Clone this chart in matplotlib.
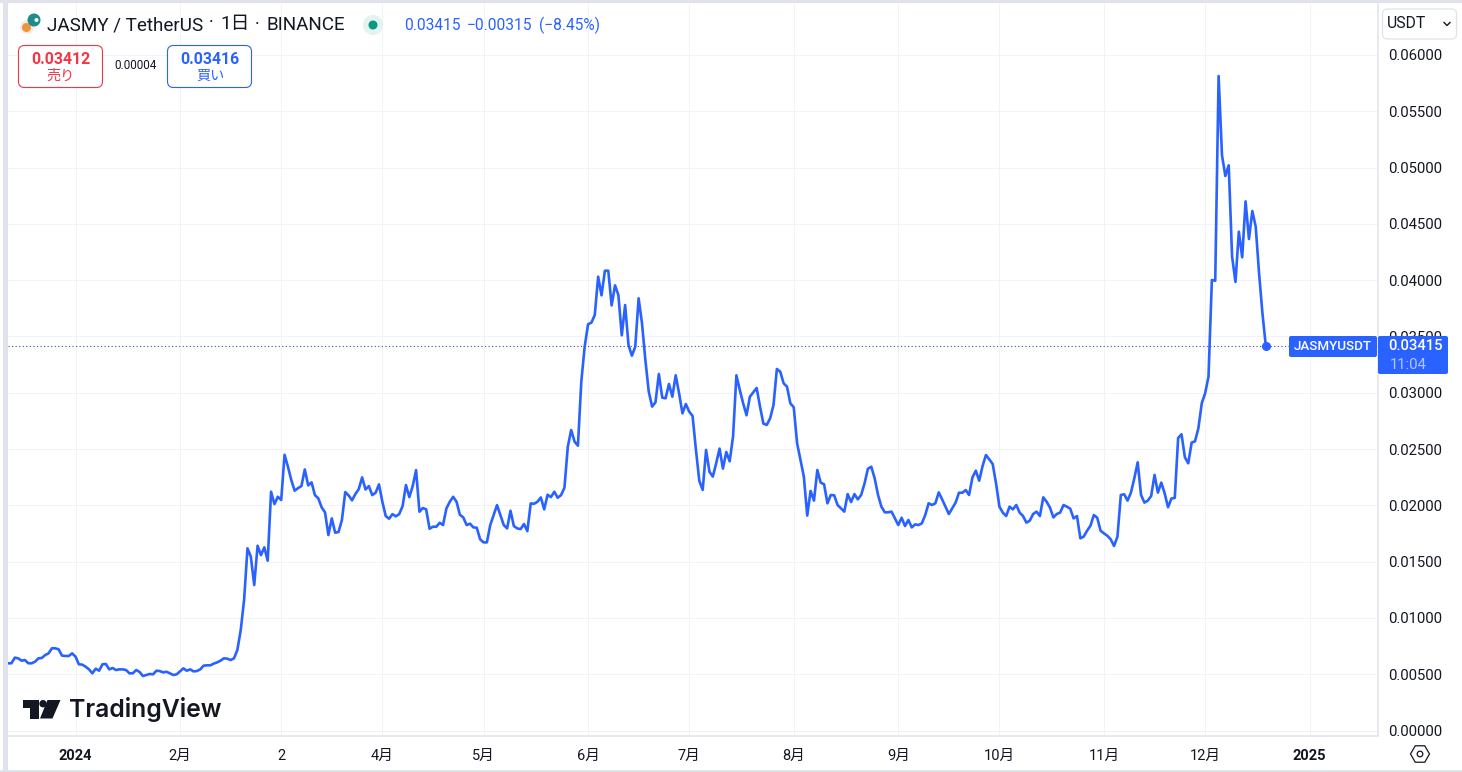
import numpy as np
import pandas as pd
import matplotlib
matplotlib.use('Agg')
import matplotlib.pyplot as plt
from matplotlib.patches import FancyBboxPatch, Rectangle, Circle, Polygon, RegularPolygon

plt.rcParams['font.family'] = ['Roboto', 'Noto Sans CJK JP', 'DejaVu Sans']

# daily close
close_dec_feb = [0.00597, 0.00597, 0.00647, 0.00641, 0.00620, 0.00626, 0.00597, 0.00597, 0.00611, 0.00641,
                 0.00644, 0.00670, 0.00685, 0.00730, 0.00730, 0.00721, 0.00665, 0.00662, 0.00662, 0.00685,
                 0.00656, 0.00588, 0.00585, 0.00567, 0.00543, 0.00508, 0.00549, 0.00531, 0.00588, 0.00591,
                 0.00543, 0.00555, 0.00537, 0.00543, 0.00543, 0.00537, 0.00508, 0.00508, 0.00537, 0.00520,
                 0.00484, 0.00493, 0.00502, 0.00499, 0.00531, 0.00528, 0.00516, 0.00522, 0.00508, 0.00493,
                 0.00499, 0.00525, 0.00552, 0.00531, 0.00543, 0.00525, 0.00528, 0.00543, 0.00576, 0.00579,
                 0.00579, 0.00594, 0.00605, 0.00620, 0.00641, 0.00638, 0.00626, 0.00641, 0.00715, 0.00892]
close_feb_may = [0.01159, 0.01618, 0.01544, 0.01292, 0.01641, 0.01558, 0.01627, 0.01508, 0.02121, 0.02011,
                 0.02076, 0.02047, 0.02449, 0.02343, 0.02224, 0.02130, 0.02153, 0.02171, 0.02319, 0.02177,
                 0.02204, 0.02091, 0.02062, 0.01982, 0.01937, 0.01736, 0.01884, 0.01757, 0.01763, 0.01869,
                 0.02118, 0.02088, 0.02044, 0.02100, 0.02144, 0.02248, 0.02141, 0.02171, 0.02091, 0.02112,
                 0.02186, 0.02032, 0.01905, 0.01881, 0.01922, 0.01902, 0.01922, 0.01993, 0.02180, 0.02073,
                 0.02171, 0.02313, 0.01943, 0.01976, 0.01964, 0.01792, 0.01810, 0.01810, 0.01845, 0.01825,
                 0.01973, 0.02032, 0.02076, 0.02032, 0.01916, 0.01893, 0.01825, 0.01837, 0.01804, 0.01801,
                 0.01698, 0.01671, 0.01671, 0.01825, 0.01913, 0.02002, 0.01913, 0.01825, 0.01795, 0.01952,
                 0.01816, 0.01795, 0.01789, 0.01834, 0.01771, 0.02017, 0.02014, 0.02032, 0.02070, 0.01964,
                 0.02094, 0.02073, 0.02121, 0.02067, 0.02091, 0.02156]
close_may_aug = [0.02521, 0.02669, 0.02566, 0.02530, 0.03099, 0.03409, 0.03608, 0.03623, 0.03691, 0.04031,
                 0.03865, 0.04084, 0.04084, 0.03776, 0.03954, 0.03868, 0.03510, 0.03779, 0.03424, 0.03329,
                 0.03409, 0.03839, 0.03617, 0.03291, 0.03010, 0.02877, 0.02915, 0.03167, 0.02957, 0.02951,
                 0.03078, 0.02965, 0.03155, 0.02995, 0.02817, 0.02900, 0.02832, 0.02794, 0.02492, 0.02217,
                 0.02137, 0.02492, 0.02299, 0.02255, 0.02373, 0.02504, 0.02326, 0.02474, 0.02391, 0.02610,
                 0.03155, 0.03025, 0.02906, 0.02800, 0.02965, 0.03004, 0.03042, 0.02877, 0.02726, 0.02714,
                 0.02773, 0.02891, 0.03211, 0.03187, 0.03084, 0.03054, 0.02906, 0.02871, 0.02551, 0.02403,
                 0.02255, 0.01909, 0.02128, 0.02042, 0.02314, 0.02202, 0.02187, 0.02018, 0.02092, 0.02089,
                 0.02003, 0.01974]
close_aug_nov = [0.01944, 0.02100, 0.02029, 0.02100, 0.02053, 0.02092, 0.02195, 0.02325, 0.02343, 0.02240,
                 0.02092, 0.01988, 0.01938, 0.01938, 0.01944, 0.01884, 0.01825, 0.01890, 0.01816, 0.01870,
                 0.01804, 0.01831, 0.01825, 0.01840, 0.01914, 0.02018, 0.02003, 0.02018, 0.02115, 0.02053,
                 0.01988, 0.01923, 0.01973, 0.02024, 0.02112, 0.02112, 0.02136, 0.02092, 0.02248, 0.02308,
                 0.02219, 0.02349, 0.02447, 0.02408, 0.02367, 0.02195, 0.01988, 0.01935, 0.01905, 0.01988,
                 0.01964, 0.02003, 0.01935, 0.01905, 0.01846, 0.01864, 0.01923, 0.01944, 0.01905, 0.02071,
                 0.02032, 0.01979, 0.01893, 0.01923, 0.01935, 0.02003, 0.01988, 0.01970, 0.01884, 0.01905,
                 0.01707, 0.01722, 0.01775, 0.01819, 0.01914, 0.01890, 0.01775, 0.01751, 0.01730, 0.01698,
                 0.01639, 0.01722, 0.02092]
close_nov_dec = [0.02098, 0.02042, 0.02113, 0.02240, 0.02382, 0.02092, 0.02024, 0.02042, 0.02083, 0.02270,
                 0.02113, 0.02202, 0.02107, 0.01983, 0.02060, 0.02066, 0.02598, 0.02631, 0.02427, 0.02373,
                 0.02557, 0.02569, 0.02684, 0.02906, 0.02995, 0.03143, 0.04001, 0.03995, 0.05813, 0.05111,
                 0.04925, 0.05020, 0.04209, 0.03984, 0.04431, 0.04203, 0.04700, 0.04365, 0.04614, 0.04475,
                 0.04061, 0.03705, 0.03415]

close = close_dec_feb + close_feb_may + close_may_aug + close_aug_nov + close_nov_dec
dates = pd.date_range('2023-12-12', periods=len(close), freq='D')

price_ticks = [0.0, 0.005, 0.01, 0.015, 0.02, 0.025, 0.03, 0.035, 0.04, 0.045, 0.05, 0.055, 0.06]
month_dates = ['2024-01-01', '2024-02-01', '2024-03-02', '2024-04-01', '2024-05-01', '2024-06-01', '2024-07-01',
               '2024-08-01', '2024-09-01', '2024-10-01', '2024-11-01', '2024-12-01', '2025-01-01']
month_labels = ['2024', '2月', '2', '4月', '5月', '6月', '7月', '8月', '9月', '10月', '11月', '12月', '2025']
last_price = 0.03415

W, H = 1462, 772
BLUE = '#2962ff'
RED = '#f23645'
INK = '#131722'
BORDER = '#e0e3eb'
GRID = '#f0f3fa'

fig = plt.figure(figsize=(W / 100, H / 100), dpi=100)
fig.patch.set_facecolor('white')

# price pane, placed in pixels
L, R, T, B = 8, 1378, 4, 736
ax = fig.add_axes([L / W, 1 - B / H, (R - L) / W, (B - T) / H])
per_unit = 675.5 / 0.06
ax.set_ylim((730.5 - B) / per_unit, (730.5 - T) / per_unit)
jan1 = pd.Timestamp('2024-01-01')
px_day = 3.372
ax.set_xlim(jan1 + pd.Timedelta(days=(L - 75.5) / px_day), jan1 + pd.Timedelta(days=(R - 75.5) / px_day))

ax.grid(True, color=GRID, lw=0.72)
ax.set_axisbelow(True)
ax.yaxis.tick_right()
ax.set_yticks(price_ticks)
ax.set_yticklabels(['%.5f' % p for p in price_ticks], fontsize=10.7, color=INK)
ax.set_xticks(pd.to_datetime(month_dates))
ax.set_xticklabels(month_labels, fontsize=10.5, color=INK)
for lab in ax.get_xticklabels():
    if lab.get_text() in ('2024', '2025'):
        lab.set_fontweight('bold')
ax.tick_params(axis='both', length=0)
ax.tick_params(axis='y', pad=7)
ax.tick_params(axis='x', pad=9)
for s in ['top', 'left']:
    ax.spines[s].set_visible(False)
for s in ['right', 'bottom']:
    ax.spines[s].set_color(BORDER)
    ax.spines[s].set_linewidth(1.1)

ax.axhline(last_price, color='#34509e', lw=0.8, ls=(0, (1, 2.2)), zorder=2)
ax.plot(dates, close, color=BLUE, lw=1.9, solid_joinstyle='round', zorder=3)
ax.plot(dates[-1:], close[-1:], 'o', color=BLUE, ms=5.5, zorder=4)

# everything round the chart, on an overlay in pixel coordinates
ui = fig.add_axes([0, 0, 1, 1])
ui.set_xlim(0, W)
ui.set_ylim(H, 0)
ui.axis('off')
ui.patch.set_alpha(0)

ui.add_patch(Rectangle((0, 0), W, 3, color=BORDER, lw=0))
ui.add_patch(Rectangle((3, 0), 4.5, H, color=BORDER, lw=0))
ui.add_patch(Rectangle((0, 769.5), W, 3, color=BORDER, lw=0))

# header
ui.add_patch(Circle((27, 27), 7, color='#f3ebe4', lw=0))
ui.add_patch(Circle((26.5, 27.5), 4.5, color='#f0923b', lw=0))
ui.add_patch(Circle((34, 20), 6.5, color='#1e8c8c', lw=0))
ui.add_patch(Circle((36.5, 20), 2, color='white', lw=0))
ui.text(47, 25.5, 'JASMY / TetherUS', fontsize=13.6, color=INK, va='center', ha='left')
ui.text(211, 23, '·', fontsize=13, color=INK, va='center', ha='center')
ui.text(220, 24.5, '1日', fontsize=13.6, color=INK, va='center', ha='left')
ui.text(257, 25, '·', fontsize=13, color=INK, va='center', ha='center')
ui.text(266, 25.5, 'BINANCE', fontsize=13.6, color=INK, va='center', ha='left')
ui.add_patch(Circle((373, 25), 10, color='#e3f3f0', lw=0))
ui.add_patch(Circle((373, 25), 4.5, color='#089981', lw=0))
ui.text(404, 25, '0.03415', fontsize=11.2, color=BLUE, va='center', ha='left')
ui.text(467, 25, '−0.00315', fontsize=11.2, color=BLUE, va='center', ha='left')
ui.text(539, 25, '(−8.45%)', fontsize=11.2, color=BLUE, va='center', ha='left')

# sell and buy buttons
ui.add_patch(FancyBboxPatch((18.5, 45.5), 84, 42, boxstyle='round,pad=0,rounding_size=6', fc='white', ec=RED, lw=0.8))
ui.text(60.5, 59, '0.03412', fontsize=11.4, fontweight='bold', color=RED, va='center', ha='center')
ui.text(60.5, 75.5, '売り', fontsize=10.2, color=RED, va='center', ha='center')
ui.text(135.5, 65.5, '0.00004', fontsize=8.5, color=INK, va='center', ha='center')
ui.add_patch(FancyBboxPatch((167.5, 45.5), 84, 42, boxstyle='round,pad=0,rounding_size=6', fc='white', ec=BLUE, lw=0.8))
ui.text(210, 59, '0.03416', fontsize=11.4, fontweight='bold', color=BLUE, va='center', ha='center')
ui.text(210, 75.5, '買い', fontsize=10.2, color=BLUE, va='center', ha='center')

# currency selector
ui.add_patch(FancyBboxPatch((1382.5, 9), 74, 30, boxstyle='round,pad=0,rounding_size=5', fc='white', ec=BORDER, lw=0.9))
ui.text(1387, 23.5, 'USDT', fontsize=11.3, color=INK, va='center', ha='left')
ui.plot([1444, 1447, 1450], [22.5, 25.5, 22.5], color=INK, lw=1)

# last price labels
ui.add_patch(FancyBboxPatch((1289, 336), 88, 21, boxstyle='round,pad=0,rounding_size=2', fc=BLUE, ec='none'))
ui.text(1333, 346.5, 'JASMYUSDT', fontsize=9.6, fontweight='medium', color='white', va='center', ha='center')
ui.add_patch(FancyBboxPatch((1378, 336), 70, 38, boxstyle='round,pad=0,rounding_size=2', fc=BLUE, ec='none'))
ui.text(1388, 346.5, '0.03415', fontsize=10.7, fontweight='medium', color='white', va='center', ha='left')
ui.text(1389.5, 365, '11:04', fontsize=10.7, color='#b4c6fd', va='center', ha='left')

# settings icon
ui.add_patch(RegularPolygon((1420, 754), 6, radius=9.5, orientation=np.pi / 2, fc='white', ec=INK, lw=0.9))
ui.add_patch(Circle((1420, 754), 2.8, fc='white', ec=INK, lw=0.9))

# TradingView logo
ui.add_patch(Polygon([(23, 700), (38.5, 700), (38.5, 718.5), (30, 718.5), (30, 707.5), (23, 707.5)], color=INK, lw=0))
ui.add_patch(Circle((43, 703.7), 3.7, color=INK, lw=0))
ui.add_patch(Polygon([(47.5, 700), (60.5, 700), (52.5, 718.5), (40, 718.5)], color=INK, lw=0))
ui.text(69, 709.5, 'TradingView', fontsize=17.8, family=['Inter', 'DejaVu Sans'], fontweight='semibold', color=INK, va='center', ha='left')

fig.savefig('out.png', dpi=100)
